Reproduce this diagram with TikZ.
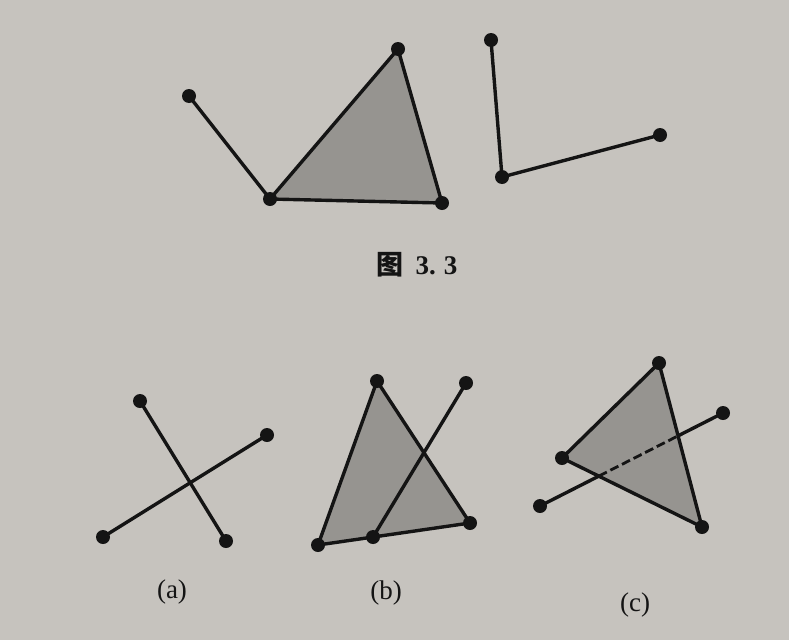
\documentclass[tikz,border=0pt]{standalone}
\usepackage{fontspec}
\setmainfont{Liberation Serif}
\newfontfamily\cjk{Noto Sans CJK SC}
\usetikzlibrary{calc}
\definecolor{paper}{RGB}{198,195,190}
\definecolor{shade}{RGB}{150,148,144}
\definecolor{ink}{RGB}{20,20,20}
\tikzset{
  dot/.style={circle,fill=ink,inner sep=0pt,minimum size=14pt},
  seg/.style={draw=ink,line width=3.4pt,line cap=round,line join=round},
  tri/.style={fill=shade},
  dashseg/.style={draw=ink,line width=2.8pt,dash pattern=on 9pt off 4pt},
  lab/.style={font=\fontsize{27}{30}\selectfont,text=ink,inner sep=0pt},
  captext/.style={font=\fontsize{27}{30}\selectfont\bfseries,text=ink,inner sep=0pt}
}
\begin{document}
\begin{tikzpicture}[x=1pt,y=-1pt]
\fill[paper] (0,0) rectangle (789,640);
\useasboundingbox (0,0) rectangle (789,640);
% top figure
\coordinate (A) at (189,96);
\coordinate (B) at (270,199);
\coordinate (C) at (398,49);
\coordinate (D) at (442,203);
\coordinate (E) at (491,40);
\coordinate (F) at (502,177);
\coordinate (G) at (660,135);
\fill[tri] (B) -- (C) -- (D) -- cycle;
\draw[seg] (A) -- (B);
\draw[seg] (B) -- (C) -- (D) -- cycle;
\draw[seg] (E) -- (F) -- (G);
\foreach \p in {A,B,C,D,E,F,G} \node[dot] (n\p) at (\p) {};
\node[captext] (caption) at (417,265) {{\cjk 图}\hspace{0.45em}3.\hspace{0.3em}3};
% (a)
\coordinate (a1) at (140,401);
\coordinate (a2) at (226,541);
\coordinate (a3) at (103,537);
\coordinate (a4) at (267,435);
\draw[seg] (a1) -- (a2);
\draw[seg] (a3) -- (a4);
\foreach \p in {a1,a2,a3,a4} \node[dot] (n\p) at (\p) {};
\node[lab] (la) at (172,592) {(a)};
% (b)
\coordinate (b1) at (318,545);
\coordinate (b2) at (377,381);
\coordinate (b3) at (470,523);
\coordinate (b4) at ($(b1)!0.362!(b3)$);
\coordinate (b5) at (466,383);
\fill[tri] (b1) -- (b2) -- (b3) -- cycle;
\draw[seg] (b1) -- (b2) -- (b3) -- cycle;
\draw[seg] (b4) -- (b5);
\foreach \p in {b1,b2,b3,b4,b5} \node[dot] (n\p) at (\p) {};
\node[lab] (lb) at (386,593) {(b)};
% (c)
\coordinate (c1) at (562,458);
\coordinate (c2) at (659,363);
\coordinate (c3) at (702,527);
\coordinate (c4) at (540,506);
\coordinate (c5) at (723,413);
\coordinate (x1) at ($(c4)!0.3212!(c5)$);
\coordinate (x2) at ($(c4)!0.7546!(c5)$);
\fill[tri] (c1) -- (c2) -- (c3) -- cycle;
\draw[dashseg] (x1) -- (x2);
\draw[seg] (c4) -- (x1);
\draw[seg] (x2) -- (c5);
\draw[seg] (c1) -- (c2) -- (c3) -- cycle;
\foreach \p in {c1,c2,c3,c4,c5} \node[dot] (n\p) at (\p) {};
\node[lab] (lc) at (635,605) {(c)};
\end{tikzpicture}
\end{document}
